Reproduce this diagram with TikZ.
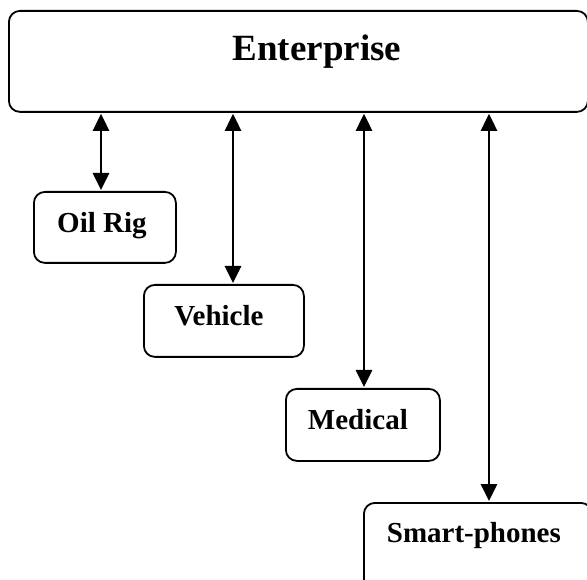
\documentclass[tikz,border=0pt]{standalone}
\usepackage{fontspec}
\setmainfont{Liberation Serif}
\usetikzlibrary{arrows.meta}
\tikzset{
  box/.style={draw, line width=1.8pt, rounded corners=11pt, inner sep=0pt, anchor=north west, align=center,
    font=\fontsize{29}{32}\selectfont\bfseries},
  link/.style={line width=2.7pt, {Triangle[width=16pt,length=17pt]}-{Triangle[width=16pt,length=17pt]}, shorten <=1pt, shorten >=1pt}
}
\begin{document}
\begin{tikzpicture}[x=1pt,y=-1pt]
\useasboundingbox (0,0) rectangle (587,580);
\begin{scope}
\clip (0,0) rectangle (587,580);
\node[box, minimum width=579pt, text height=50pt, text depth=51pt, font=\fontsize{37}{40}\selectfont\bfseries] (ent) at (8,10) {\hspace{37pt}Enterprise};
\node[box, minimum width=142pt, text height=41pt, text depth=30pt] (oil) at (33,191) {Oil Rig\hspace{6pt}};
\node[box, minimum width=160pt, text height=41pt, text depth=31pt] (veh) at (143,284) {Vehicle\hspace{10pt}};
\node[box, minimum width=154pt, text height=41pt, text depth=31pt] (med) at (285,388) {Medical\hspace{10pt}};
\node[box, minimum width=228pt, text height=40pt, text depth=60pt] (sp) at (363,502) {Smart-phones\hspace{8pt}};
\coordinate (x1) at (101,0);
\coordinate (x2) at (233,0);
\coordinate (x3) at (364,0);
\coordinate (x4) at (489,0);
\draw[link] (ent.south -| x1) -- (oil.north -| x1);
\draw[link] (ent.south -| x2) -- (veh.north -| x2);
\draw[link] (ent.south -| x3) -- (med.north -| x3);
\draw[link] (ent.south -| x4) -- (sp.north -| x4);
\end{scope}
\end{tikzpicture}
\end{document}
